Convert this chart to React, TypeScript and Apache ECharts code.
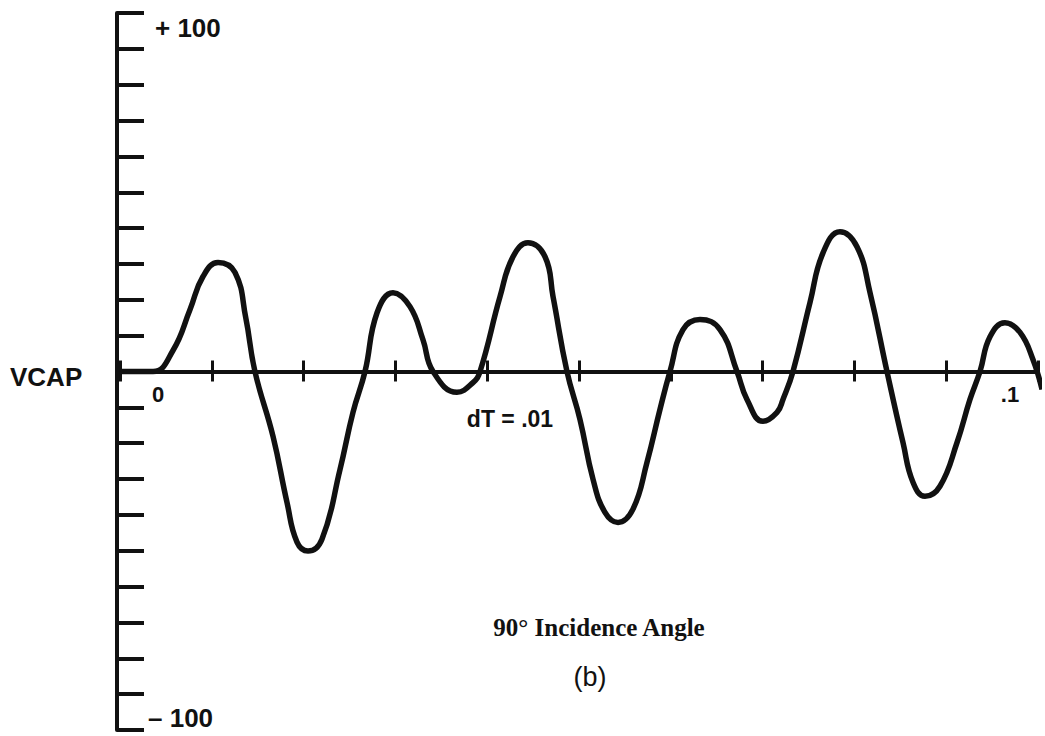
import { useEffect, useRef } from "react";
import * as echarts from "echarts";

// time (s) and VCAP values
const tValues = [
  0, 0.0036, 0.0058, 0.00763, 0.00904, 0.01068, 0.01253, 0.0137, 0.0147,
  0.01667, 0.01819, 0.01928, 0.02048, 0.022, 0.02397, 0.02538, 0.02669,
  0.028, 0.02974, 0.03159, 0.033, 0.0341, 0.03671, 0.03845, 0.03922,
  0.0414, 0.04281, 0.04444, 0.0463, 0.04717, 0.04869,
  0.05011, 0.05153, 0.05283, 0.05425, 0.05588, 0.05741, 0.05882, 0.05991,
  0.06133, 0.06318, 0.06536, 0.06721, 0.0683, 0.07004, 0.07157, 0.07222, 0.07331,
  0.07516, 0.07658, 0.07843, 0.08028, 0.0817, 0.08355,
  0.08529, 0.08638, 0.08769, 0.08932, 0.09118, 0.09259, 0.09368,
  0.09477, 0.0964, 0.09804, 0.09946, 0.10044,
];
const vcapValues = [
  0, 0, 6.0, 17.3, 26.5, 30.4, 27.6, 15.0, 0,
  -18.1, -36.5, -47.6, -50.1, -46.8, -27.3, -11.4, 0,
  16.4, 22.0, 18.1, 8.9, 0, -5.8, -3.1, 0,
  20.9, 32.0, 35.9, 32.0, 20.9, 0,
  -13.4, -30.1, -39.3, -42.1, -38.4, -25.3, -10.6, 0,
  11.7, 14.5, 11.7, 0, -7.8, -13.9, -11.4, -7.8, 0,
  19.2, 33.1, 39.0, 34.8, 22.0, 0,
  -19.8, -30.9, -34.8, -32.0, -19.8, -7.8, 0,
  9.7, 13.6, 10.9, 3.3, -5.0,
];

// tick labels
const yLabelValues = [100, -100];
const yLabelTexts = ["+ 100", "\u2013 100"];
const xLabelValues = [0, 0.1];
const xLabelTexts = ["0", ".1"];

const INK = "#111";
const SANS = "'Liberation Sans', Arial, sans-serif";
const SERIF = "'Liberation Serif', 'Times New Roman', serif";

function matchIndex(values: number[], v: number) {
  return values.findIndex((x) => Math.abs(x - v) < 1e-9);
}

export default function App() {
  const ref = useRef<HTMLDivElement>(null);

  useEffect(() => {
    if (!ref.current) return;
    const chart = echarts.init(ref.current, undefined, { renderer: "svg" });

    const xCommon = {
      type: "value" as const,
      min: 0,
      max: 0.1,
      interval: 0.01,
      position: "bottom" as const,
      splitLine: { show: false },
    };

    chart.setOption({
      animation: false,
      backgroundColor: "#ffffff",
      grid: [
        // main plot
        { left: 120, right: 7, top: 13, bottom: 6, containLabel: false, outerBoundsMode: "none" },
        // upper half: its bottom edge is the zero line, carrying the downward ticks and end labels
        { left: 120, right: 7, top: 13, bottom: 364.5, containLabel: false, outerBoundsMode: "none" },
      ],
      xAxis: [
        {
          ...xCommon,
          gridIndex: 0,
          axisLine: { onZero: true, lineStyle: { color: INK, width: 4 } },
          axisTick: { show: true, inside: true, length: 11, lineStyle: { color: INK, width: 3 } },
          axisLabel: { show: false },
        },
        {
          ...xCommon,
          gridIndex: 1,
          axisLine: { onZero: false, lineStyle: { color: INK, width: 4 } },
          axisTick: { show: true, inside: false, length: 10, lineStyle: { color: INK, width: 3 } },
          axisLabel: {
            show: true,
            margin: 12,
            formatter: (v: number) => {
              const i = matchIndex(xLabelValues, v);
              if (i < 0) return "";
              return i === 0 ? `{a|${xLabelTexts[i]}}` : `{b|${xLabelTexts[i]}}`;
            },
            rich: {
              a: { fontFamily: SANS, fontWeight: "bold", fontSize: 22, color: INK, padding: [0, 0, 0, 76] },
              b: { fontFamily: SANS, fontWeight: "bold", fontSize: 22, color: INK, padding: [0, 56, 0, 0] },
            },
          },
        },
      ],
      yAxis: [
        {
          type: "value",
          gridIndex: 0,
          min: -100,
          max: 100,
          interval: 10,
          offset: 3,
          splitLine: { show: false },
          axisLine: { show: true, onZero: false, lineStyle: { color: INK, width: 4 } },
          axisTick: { show: true, inside: true, length: 27, lineStyle: { color: INK, width: 4 } },
          axisLabel: {
            show: true,
            inside: true,
            margin: 31,
            showMinLabel: true,
            showMaxLabel: true,
            formatter: (v: number) => {
              const i = matchIndex(yLabelValues, v);
              if (i < 0) return "";
              return i === 0 ? `{t|${yLabelTexts[i]}}` : `{u|${yLabelTexts[i]}}`;
            },
            rich: {
              t: { fontFamily: SANS, fontWeight: "bold", fontSize: 26, color: INK, padding: [30, 0, 0, 7] },
              u: { fontFamily: SANS, fontWeight: "bold", fontSize: 26, color: INK, padding: [0, 0, 24, 0] },
            },
          },
        },
        {
          type: "value",
          gridIndex: 1,
          min: 0,
          max: 100,
          splitLine: { show: false },
          axisLine: { show: false, onZero: false },
          axisTick: { show: false },
          axisLabel: { show: false },
        },
      ],
      series: [
        {
          type: "line",
          xAxisIndex: 0,
          yAxisIndex: 0,
          data: tValues.map((t, i) => [t, vcapValues[i]]),
          smooth: 0.45,
          showSymbol: false,
          clip: false,
          lineStyle: { color: INK, width: 5.5 },
          silent: true,
          z: 5,
        },
      ],
      graphic: [
        {
          type: "text",
          x: 10,
          y: 377,
          style: {
            text: "VCAP",
            fontFamily: SANS,
            fontWeight: "bold",
            fontSize: 26,
            fill: INK,
            textAlign: "left",
            textVerticalAlign: "middle",
          },
        },
        {
          type: "text",
          x: 510,
          y: 419,
          style: {
            text: "dT = .01",
            fontFamily: SANS,
            fontWeight: "bold",
            fontSize: 23,
            fill: INK,
            textAlign: "center",
            textVerticalAlign: "middle",
          },
        },
        {
          type: "text",
          x: 599,
          y: 627,
          style: {
            text: "90\u00b0 Incidence Angle",
            fontFamily: SERIF,
            fontWeight: "bold",
            fontSize: 25,
            fill: INK,
            textAlign: "center",
            textVerticalAlign: "middle",
          },
        },
        {
          type: "text",
          x: 590,
          y: 677,
          style: {
            text: "(b)",
            fontFamily: SANS,
            fontSize: 27,
            fill: INK,
            textAlign: "center",
            textVerticalAlign: "middle",
          },
        },
      ],
    });

    return () => chart.dispose();
  }, []);

  return (
    <div
      ref={ref}
      style={{ position: "fixed", left: 0, top: 0, width: 1045, height: 736, background: "#fff" }}
    />
  );
}
